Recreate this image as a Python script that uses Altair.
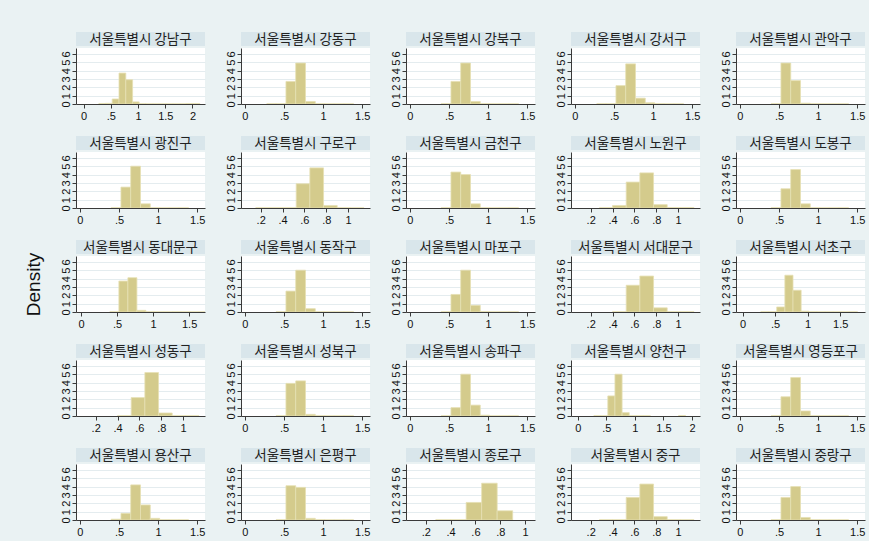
import altair as alt
import pandas as pd

# ---------------- data ----------------
DISTRICTS = [
    "서울특별시 강남구", "서울특별시 강동구", "서울특별시 강북구", "서울특별시 강서구", "서울특별시 관악구",
    "서울특별시 광진구", "서울특별시 구로구", "서울특별시 금천구", "서울특별시 노원구", "서울특별시 도봉구",
    "서울특별시 동대문구", "서울특별시 동작구", "서울특별시 마포구", "서울특별시 서대문구", "서울특별시 서초구",
    "서울특별시 성동구", "서울특별시 성북구", "서울특별시 송파구", "서울특별시 양천구", "서울특별시 영등포구",
    "서울특별시 용산구", "서울특별시 은평구", "서울특별시 종로구", "서울특별시 중구", "서울특별시 중랑구",
]

BIN_LO = [0.155, 0.28, 0.40, 0.525, 0.65, 0.775, 0.90, 1.02, 1.145, 1.27, 1.39, 1.515, 1.64, 1.765, 1.885, 2.01]
BIN_HI = [0.28, 0.40, 0.525, 0.65, 0.775, 0.90, 1.02, 1.145, 1.27, 1.39, 1.515, 1.64, 1.765, 1.885, 2.01, 2.135]

N = None
DENSITY = {
    "서울특별시 강남구": [N, 0.06, 0.08, 0.6, 3.7, 2.9, 0.25, 0.03, 0.02, 0.02, 0.02, 0.02, 0.02, 0.02, 0.05, 0.05],
    "서울특별시 강동구": [N, 0.03, 0.03, 2.7, 4.9, 0.3, 0.03, 0.02, 0.02, 0.02],
    "서울특별시 강북구": [N, N, 0.03, 2.7, 4.9, 0.3, 0.03, 0.02, 0.02, 0.02],
    "서울특별시 강서구": [N, 0.03, 0.03, 2.2, 4.8, 0.7, 0.15, 0.03, 0.02, 0.02],
    "서울특별시 관악구": [N, N, 0.03, 4.9, 2.8, 0.1, 0.03, 0.02, 0.02, 0.02],
    "서울특별시 광진구": [N, N, 0.03, 2.5, 5.0, 0.5, 0.03, 0.02, 0.02, 0.02],
    "서울특별시 구로구": [0.03, 0.03, 0.03, 2.9, 4.8, 0.3, 0.03, 0.02],
    "서울특별시 금천구": [N, N, 0.03, 4.3, 4.0, 0.5, 0.03, 0.02, 0.02, 0.02],
    "서울특별시 노원구": [N, 0.03, 0.3, 3.1, 4.2, 0.4, 0.05, 0.05],
    "서울특별시 도봉구": [N, N, 0.03, 2.3, 4.6, 0.5, 0.03, 0.02, 0.02, 0.02],
    "서울특별시 동대문구": [N, N, 0.03, 3.7, 4.1, 0.2, 0.03, 0.02, 0.02, 0.02, 0.02, 0.02, 0.02],
    "서울특별시 동작구": [N, N, 0.03, 2.5, 5.0, 0.4, 0.03, 0.02, 0.02, 0.02],
    "서울특별시 마포구": [N, N, 0.03, 2.1, 5.0, 0.8, 0.05, 0.02, 0.02, 0.02],
    "서울특별시 서대문구": [N, N, 0.03, 3.2, 4.3, 0.5, 0.03, 0.03],
    "서울특별시 서초구": [N, 0.03, 0.03, 0.6, 4.4, 2.6, 0.1, 0.03, 0.02, 0.02, 0.02, 0.02, 0.02],
    "서울특별시 성동구": [N, N, 0.03, 2.2, 5.2, 0.36, 0.03, 0.03],
    "서울특별시 성북구": [N, N, 0.03, 3.9, 4.2, 0.2, 0.03, 0.02, 0.02, 0.02],
    "서울특별시 송파구": [N, N, 0.03, 1.0, 5.0, 1.3, 0.1, 0.02, 0.02, 0.02],
    "서울특별시 양천구": [N, 0.03, 0.03, 2.4, 5.0, 0.4, 0.03, 0.03, 0.03, N, N, N, N, 0.05],
    "서울특별시 영등포구": [N, N, 0.03, 2.3, 4.6, 0.6, 0.03, 0.02, 0.02, 0.02],
    "서울특별시 용산구": [N, N, 0.1, 0.8, 4.2, 1.8, 0.2, 0.03, 0.02, 0.02],
    "서울특별시 은평구": [N, N, 0.03, 4.1, 3.9, 0.2, 0.03, 0.02, 0.02, 0.02],
    "서울특별시 종로구": [N, 0.03, 0.03, 2.1, 4.4, 1.1],
    "서울특별시 중구": [N, 0.03, 0.03, 2.7, 4.3, 0.4, 0.03, 0.03],
    "서울특별시 중랑구": [N, N, 0.03, 2.7, 4.0, 0.3, 0.03, 0.02, 0.02, 0.02],
}

TICKS_A = [0, 0.5, 1, 1.5, 2]
TICKS_B = [0, 0.5, 1, 1.5]
TICKS_C = [0.2, 0.4, 0.6, 0.8, 1]
X_TICKS = {
    "서울특별시 강남구": TICKS_A, "서울특별시 양천구": TICKS_A,
    "서울특별시 구로구": TICKS_C, "서울특별시 노원구": TICKS_C, "서울특별시 서대문구": TICKS_C,
    "서울특별시 성동구": TICKS_C, "서울특별시 종로구": TICKS_C, "서울특별시 중구": TICKS_C,
}
X_DOMAIN = {
    "서울특별시 강남구": [-0.14, 2.23],
    "서울특별시 양천구": [-0.12, 2.14],
    "서울특별시 서초구": [-0.1, 1.88],
    "서울특별시 동대문구": [-0.07, 1.72],
    "서울특별시 종로구": [0.04, 1.08],
}
DOMAIN_B = [-0.05, 1.6]
DOMAIN_C = [0.02, 1.2]
Y_TICKS = [0, 1, 2, 3, 4, 5, 6]

# ---------------- style ----------------
PW, PH, HH = 129, 56, 14
BG = "#EAF2F3"
HDR = "#D9E6EB"
BAR_FILL = "#D4CB8C"
BAR_STROKE = "#E6DFB4"
AX = "#3a3a3a"
FONT_NUM = "Liberation Sans"
FONT_KR = "Noto Sans CJK KR"

LABEL_EXPR = ("datum.value > 0 && datum.value < 1 ? "
              "slice(format(datum.value, '~g'), 1) : format(datum.value, '~g')")


def panel(name):
    vals = DENSITY[name]
    rows = [dict(lo=BIN_LO[i], hi=BIN_HI[i], density=v, base=0.0)
            for i, v in enumerate(vals) if v is not None]
    df = pd.DataFrame(rows)
    ticks = X_TICKS.get(name, TICKS_B)
    if name in X_DOMAIN:
        dom = X_DOMAIN[name]
    elif ticks == TICKS_C:
        dom = DOMAIN_C
    else:
        dom = DOMAIN_B

    bars = alt.Chart(df).mark_rect(
        fill=BAR_FILL, stroke=BAR_STROKE, strokeWidth=0.8, clip=True
    ).encode(
        x=alt.X("lo:Q", scale=alt.Scale(domain=dom, nice=False, zero=False),
                axis=alt.Axis(values=ticks, labelExpr=LABEL_EXPR, title=None, grid=False,
                              tickSize=4, tickColor=AX, domainColor=AX, labelColor="#111",
                              labelFont=FONT_NUM, labelFontSize=11, labelPadding=2,
                              labelFlush=False, labelOverlap=False)),
        x2="hi:Q",
        y=alt.Y("density:Q", scale=alt.Scale(domain=[0, 6.7], nice=False),
                axis=alt.Axis(values=Y_TICKS, title=None, grid=True, gridColor="#E4ECEF",
                              gridWidth=1, tickSize=4, tickColor=AX, domainColor=AX,
                              labelColor="#111", labelFont=FONT_NUM, labelFontSize=11,
                              labelAngle=270, labelPadding=1, labelFlush=False,
                              labelOverlap=False)),
        y2="base:Q",
    ).properties(width=PW, height=PH)

    hdf = pd.DataFrame({"name": [name]})
    hbox = alt.Chart(hdf).mark_rect(fill=HDR).encode(
        x=alt.value(0), x2=alt.value(PW), y=alt.value(0), y2=alt.value(HH))
    htxt = alt.Chart(hdf).mark_text(font=FONT_KR, fontSize=13.5, color="#222",
                                    baseline="middle", align="center").encode(
        text="name:N", x=alt.value(PW / 2), y=alt.value(HH / 2 + 0.5))
    header = (hbox + htxt).properties(width=PW, height=HH)
    return alt.vconcat(header, bars, spacing=2)


rows = []
for r in range(5):
    rows.append(alt.hconcat(*[panel(n) for n in DISTRICTS[r * 5:(r + 1) * 5]], spacing=20))

chart = alt.vconcat(*rows, spacing=15).properties(
    title=alt.TitleParams("Density", orient="left", anchor="middle", font=FONT_NUM,
                          fontSize=19, fontWeight="normal", color="#111", offset=16),
    padding={"left": 24, "top": 32, "right": 4, "bottom": 4},
    background=BG,
).configure_view(strokeWidth=0, fill="white").configure_concat(spacing=15)

chart.save("out.html", embed_options={"renderer": "svg", "actions": False})
